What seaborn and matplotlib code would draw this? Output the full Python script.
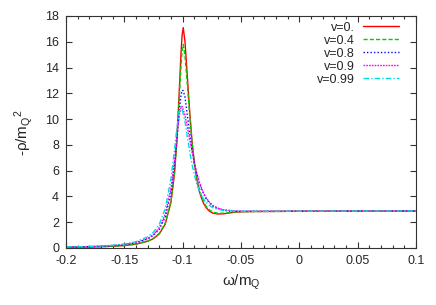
import numpy as np
import pandas as pd
import seaborn as sns
import matplotlib
matplotlib.use("Agg")
import matplotlib.pyplot as plt
from matplotlib.ticker import MultipleLocator, FormatStrFormatter

# omega/m_Q grid (shared by all curves)
omega = [-0.2, -0.19, -0.18, -0.17, -0.16, -0.15, -0.14, -0.13, -0.125, -0.12,
         -0.115, -0.11, -0.107, -0.105, -0.103, -0.1015, -0.1005, -0.0995, -0.098, -0.096,
         -0.094, -0.092, -0.09, -0.088, -0.086, -0.084, -0.082, -0.08, -0.077, -0.074,
         -0.07, -0.065, -0.06, -0.055, -0.05, -0.04, -0.02, 0.0, 0.05, 0.1]

# -rho/m_Q^2
rho_v0 = [0.05, 0.06, 0.08, 0.10, 0.135, 0.19, 0.30, 0.52, 0.73, 1.10,
          1.84, 3.56, 5.81, 8.37, 12.0, 15.0, 16.5, 17.1, 16.0, 13.3,
          10.6, 8.3, 6.6, 5.4, 4.5, 3.9, 3.45, 3.15, 2.85, 2.70,
          2.64, 2.65, 2.72, 2.78, 2.81, 2.83, 2.84, 2.85, 2.86, 2.87]
rho_v04 = [0.052, 0.063, 0.08, 0.104, 0.141, 0.20, 0.31, 0.54, 0.76, 1.15,
           1.91, 3.64, 5.82, 8.24, 11.5, 14.0, 15.3, 15.8, 14.9, 12.7,
           10.3, 8.2, 6.6, 5.5, 4.65, 4.05, 3.6, 3.25, 2.95, 2.78,
           2.70, 2.70, 2.75, 2.80, 2.82, 2.83, 2.84, 2.85, 2.86, 2.87]
rho_v08 = [0.066, 0.082, 0.103, 0.134, 0.182, 0.26, 0.40, 0.70, 0.98, 1.46,
           2.38, 4.31, 6.45, 8.41, 10.54, 11.8, 12.24, 12.2, 11.7, 10.3,
           8.9, 7.6, 6.6, 5.8, 5.15, 4.6, 4.2, 3.85, 3.5, 3.25,
           3.05, 2.93, 2.87, 2.85, 2.84, 2.84, 2.84, 2.85, 2.86, 2.87]
rho_v09 = [0.069, 0.085, 0.108, 0.141, 0.191, 0.275, 0.43, 0.745, 1.05, 1.58,
           2.59, 4.65, 6.79, 8.57, 10.21, 10.91, 10.99, 10.71, 10.3, 9.4,
           8.4, 7.5, 6.6, 5.8, 5.2, 4.7, 4.25, 3.9, 3.55, 3.3,
           3.1, 2.97, 2.92, 2.88, 2.86, 2.85, 2.85, 2.85, 2.86, 2.87]
rho_v099 = [0.078, 0.097, 0.122, 0.16, 0.219, 0.315, 0.49, 0.865, 1.23, 1.85,
            3.03, 5.37, 7.63, 9.30, 10.56, 10.9, 10.75, 10.4, 9.8, 8.6,
            7.5, 6.5, 5.7, 5.0, 4.5, 4.1, 3.8, 3.55, 3.3, 3.12,
            3.0, 2.92, 2.88, 2.86, 2.86, 2.85, 2.85, 2.85, 2.86, 2.87]

labels = ["v=0.", "v=0.4", "v=0.8", "v=0.9", "v=0.99"]
series = [rho_v0, rho_v04, rho_v08, rho_v09, rho_v099]

df = pd.concat([pd.DataFrame({"omega": omega, "rho": s, "v": lab})
                for lab, s in zip(labels, series)], ignore_index=True)

sns.set_style("ticks")
plt.rcParams["font.family"] = ["Liberation Sans", "DejaVu Sans"]
plt.rcParams["mathtext.default"] = "regular"

colors = {"v=0.": "#ff0000", "v=0.4": "#00d000", "v=0.8": "#0000ff",
          "v=0.9": "#ff00ff", "v=0.99": "#00dddd"}
dashes = {"v=0.": "", "v=0.4": (3, 1.5), "v=0.8": (1, 1.5),
          "v=0.9": (1.2, 0.8), "v=0.99": (4, 1.5, 1, 1.5)}

fig = plt.figure(figsize=(4.36, 3.05), dpi=100)
ax = fig.add_axes([66 / 436, 1 - 248 / 305, 350 / 436, 232 / 305])

sns.lineplot(data=df, x="omega", y="rho", hue="v", style="v",
             palette=colors, dashes=dashes, linewidth=1.0,
             estimator=None, sort=False, ax=ax)

ax.set_xlim(-0.2, 0.1)
ax.set_ylim(0, 18)
ax.xaxis.set_major_locator(MultipleLocator(0.05))
ax.xaxis.set_minor_locator(MultipleLocator(0.01))
ax.yaxis.set_major_locator(MultipleLocator(2))
ax.xaxis.set_major_formatter(FormatStrFormatter("%g"))
ax.tick_params(which="both", direction="in", top=True, right=True,
               labelsize=9, color="#333333", width=0.8)
ax.tick_params(which="major", length=4, pad=5)
ax.tick_params(which="minor", length=2)
for sp in ax.spines.values():
    sp.set_linewidth(0.8)
    sp.set_color("#333333")

ax.set_xlabel("ω/m$_Q$", fontsize=11, labelpad=4)
ax.set_ylabel("-ρ/m$_Q$$^2$", fontsize=11, labelpad=7)

leg = ax.legend(loc="upper right", bbox_to_anchor=(0.977, 1.013), frameon=False,
                markerfirst=False, fontsize=9, handlelength=2.9,
                handletextpad=0.65, labelspacing=0.08, borderpad=0.2)
for line in leg.get_lines():
    line.set_linewidth(1.0)

fig.savefig("out.png", dpi=100)
